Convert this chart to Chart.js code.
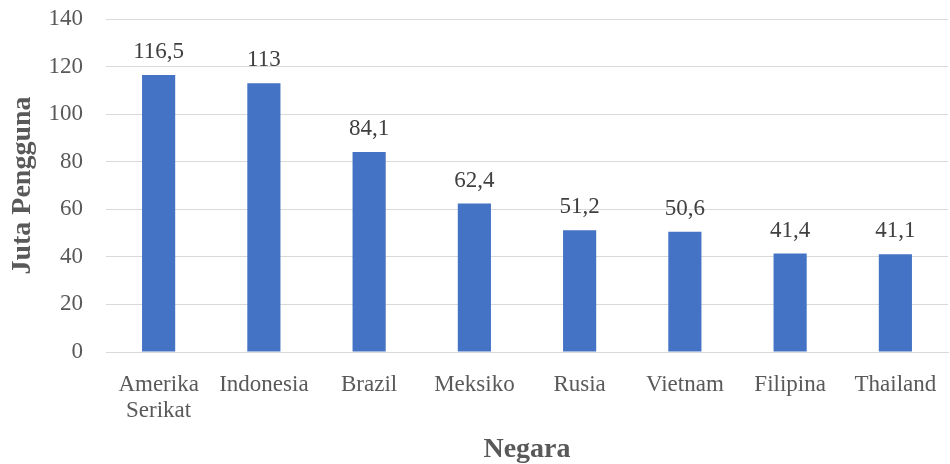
<!DOCTYPE html>
<html>
<head>
<meta charset="utf-8">
<script src="https://cdn.jsdelivr.net/npm/chart.js@4"></script>
<style>
    html, body { margin: 0; padding: 0; background: #fff; }
    #wrap { width: 950px; height: 464px; }
</style>
</head>
<body>
<div id="wrap"><canvas id="myChart"></canvas></div>
<script>
const negara = [['Amerika', 'Serikat'], 'Indonesia', 'Brazil', 'Meksiko', 'Rusia', 'Vietnam', 'Filipina', 'Thailand'];
const pengguna = [116.5, 113, 84.1, 62.4, 51.2, 50.6, 41.4, 41.1];
const labelNilai = ['116,5', '113', '84,1', '62,4', '51,2', '50,6', '41,4', '41,1'];

const textColor = '#595959';
const serif = '"Liberation Serif", "Times New Roman", serif';

// labels di atas batang
const valueLabels = {
    id: 'valueLabels',
    afterDatasetsDraw(chart) {
        const ctx = chart.ctx;
        const meta = chart.getDatasetMeta(0);
        ctx.save();
        ctx.font = '23px ' + serif;
        ctx.fillStyle = '#404040';
        ctx.textAlign = 'center';
        ctx.textBaseline = 'alphabetic';
        meta.data.forEach((bar, i) => {
            ctx.fillText(labelNilai[i], bar.x, bar.y - 17);
        });
        ctx.restore();
    }
};

const ctx = document.getElementById('myChart').getContext('2d');
new Chart(ctx, {
    type: 'bar',
    data: {
        labels: negara,
        datasets: [{
            data: pengguna,
            backgroundColor: '#4472C4',
            categoryPercentage: 1,
            barPercentage: 0.315
        }]
    },
    options: {
        responsive: true,
        maintainAspectRatio: false,
        animation: false,
        layout: { padding: { top: 19, right: 2, left: 0, bottom: 0 } },
        plugins: {
            legend: { display: false },
            tooltip: { enabled: false }
        },
        scales: {
            x: {
                afterFit: s => {
                    s.height = 112;
                    s.paddingLeft = 0;
                    s.paddingRight = 0;
                },
                grid: { display: false },
                border: { display: true, color: '#d9d9d9', width: 1 },
                ticks: {
                    color: textColor,
                    font: { family: serif, size: 23, lineHeight: 1.13 },
                    padding: 12,
                    maxRotation: 0,
                    autoSkip: false
                },
                title: {
                    display: true,
                    text: 'Negara',
                    color: textColor,
                    font: { family: serif, size: 28, weight: 'bold' },
                    padding: { top: 0, bottom: -3 }
                }
            },
            y: {
                min: 0,
                max: 140,
                afterFit: s => {
                    s.width = 106;
                    s.paddingTop = 0;
                    s.paddingBottom = 0;
                },
                ticks: {
                    stepSize: 20,
                    color: textColor,
                    font: { family: serif, size: 23 },
                    padding: 23
                },
                grid: { color: '#d9d9d9', drawTicks: false },
                border: { display: false },
                title: {
                    display: true,
                    text: 'Juta Pengguna',
                    color: textColor,
                    font: { family: serif, size: 28, weight: 'bold' },
                    padding: { top: 6, bottom: 0 }
                }
            }
        }
    },
    plugins: [valueLabels]
});
</script>
</body>
</html>
